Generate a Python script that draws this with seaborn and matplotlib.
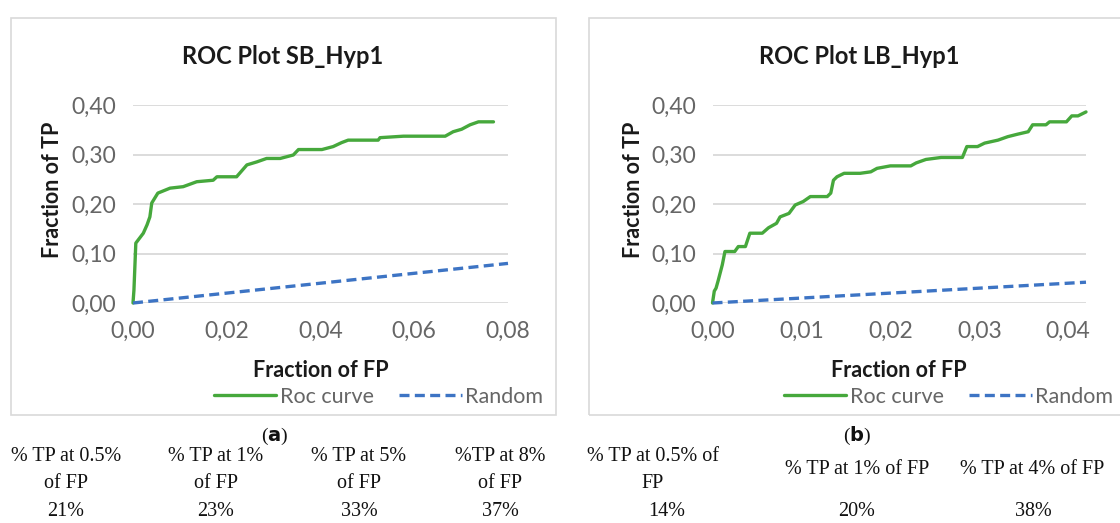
import matplotlib
matplotlib.use("Agg")
import matplotlib.pyplot as plt
import matplotlib.patches as mpatches
from matplotlib.lines import Line2D
from matplotlib.ticker import FuncFormatter, MultipleLocator
import seaborn as sns
import pandas as pd

# ---------------- data ----------------
sb_fp = [0.0, 0.0002, 0.0006, 0.0022, 0.0030, 0.0036, 0.0040, 0.0053, 0.0079, 0.0107,
         0.0136, 0.0171, 0.0179, 0.0221, 0.0243, 0.0264, 0.0285, 0.0314, 0.0342, 0.0353,
         0.0403, 0.0427, 0.0445, 0.0459, 0.0523, 0.0527, 0.0577, 0.0666, 0.0683, 0.0701,
         0.0719, 0.0737, 0.0769]
sb_tp = [0.0, 0.026, 0.121, 0.141, 0.158, 0.174, 0.202, 0.222, 0.232, 0.235,
         0.245, 0.248, 0.255, 0.255, 0.279, 0.285, 0.292, 0.292, 0.299, 0.310,
         0.310, 0.316, 0.324, 0.329, 0.329, 0.334, 0.337, 0.337, 0.346, 0.351,
         0.360, 0.366, 0.366]
sb_random_fp = [0.0, 0.08]
sb_random_tp = [0.0, 0.08]

lb_fp = [0.0, 0.0002, 0.0004, 0.00065, 0.0011, 0.0014, 0.0025, 0.0029, 0.0037, 0.0042,
         0.0056, 0.0063, 0.0072, 0.0076, 0.0086, 0.0093, 0.0102, 0.0110, 0.0129, 0.0133,
         0.0136, 0.0140, 0.0148, 0.0166, 0.0178, 0.0185, 0.0200, 0.0223, 0.0229, 0.0240,
         0.0257, 0.0281, 0.0286, 0.0298, 0.0306, 0.0321, 0.0332, 0.0343, 0.0355, 0.0360,
         0.0375, 0.0379, 0.0398, 0.0404, 0.0411, 0.0420]
lb_tp = [0.0, 0.024, 0.030, 0.046, 0.077, 0.104, 0.104, 0.114, 0.114, 0.141,
         0.141, 0.152, 0.161, 0.174, 0.181, 0.198, 0.205, 0.215, 0.215, 0.222,
         0.248, 0.255, 0.262, 0.262, 0.265, 0.272, 0.277, 0.277, 0.283, 0.290,
         0.294, 0.294, 0.316, 0.316, 0.323, 0.329, 0.336, 0.341, 0.346, 0.360,
         0.360, 0.366, 0.366, 0.378, 0.378, 0.386]
lb_random_fp = [0.0, 0.042]
lb_random_tp = [0.0, 0.042]

titles = ["ROC Plot SB_Hyp1", "ROC Plot LB_Hyp1"]
series_names = ["Roc curve", "Random"]
caption_letters = ["a", "b"]

table_a_headers = ["% TP at 0.5%\nof FP", "% TP at 1%\nof FP", "% TP at 5%\nof FP", "%TP at 8%\nof FP"]
table_a_values = ["21%", "23%", "33%", "37%"]
table_b_headers = ["% TP at 0.5% of\nFP", "% TP at 1% of FP", "% TP at 4% of FP"]
table_b_values = ["14%", "20%", "38%"]

# ---------------- style ----------------
sns.set_style("white")
plt.rcParams["font.family"] = ["Lato", "DejaVu Sans"]

GREEN = "#46a83c"
BLUE = "#3d74c4"
GRID = "#d9d9d9"
TICK = "#666666"

W, H = 1120, 523
fig = plt.figure(figsize=(W / 100, H / 100), dpi=100)


def fx(px):
    return px / W


def fy(py):
    return 1 - py / H


comma_fmt = FuncFormatter(lambda v, p: f"{v:.2f}".replace(".", ","))

panels = [
    dict(fp=sb_fp, tp=sb_tp, rfp=sb_random_fp, rtp=sb_random_tp, xmax=0.08, xstep=0.02,
         ax_px=(133, 508), box=(11, 556), title_x=283, legend_right=543, ylab_x=52),
    dict(fp=lb_fp, tp=lb_tp, rfp=lb_random_fp, rtp=lb_random_tp, xmax=0.042, xstep=0.01,
         ax_px=(712.5, 1086), box=(589, 1130), title_x=859, legend_right=1113, ylab_x=633),
]

serif = ["Liberation Serif", "DejaVu Serif"]

for i, p in enumerate(panels):
    # chart frame
    bx0, bx1 = p["box"]
    fig.patches.append(mpatches.Rectangle((fx(bx0), fy(415)), fx(bx1 - bx0), (415 - 18) / H,
                                          transform=fig.transFigure, fill=False,
                                          edgecolor=GRID, linewidth=1.2, zorder=0))
    x0, x1 = p["ax_px"]
    ax = fig.add_axes([fx(x0), fy(303), fx(x1 - x0), 198 / H])

    df = pd.DataFrame({"fp": list(p["fp"]) + list(p["rfp"]),
                       "tp": list(p["tp"]) + list(p["rtp"]),
                       "series": [series_names[0]] * len(p["fp"]) + [series_names[1]] * len(p["rfp"])})
    sns.lineplot(data=df[df.series == series_names[0]], x="fp", y="tp", ax=ax, color=GREEN,
                 linewidth=2.4, sort=False, estimator=None, legend=False, zorder=3)
    sns.lineplot(data=df[df.series == series_names[1]], x="fp", y="tp", ax=ax, color=BLUE,
                 linewidth=2.4, sort=False, estimator=None, legend=False, zorder=3,
                 linestyle=(0, (3, 1.6)))

    ax.set_xlim(0, p["xmax"])
    ax.set_ylim(0, 0.40)
    ax.xaxis.set_major_locator(MultipleLocator(p["xstep"]))
    ax.yaxis.set_major_locator(MultipleLocator(0.10))
    ax.xaxis.set_major_formatter(comma_fmt)
    ax.yaxis.set_major_formatter(comma_fmt)
    ax.grid(axis="y", color=GRID, linewidth=1.3)
    ax.grid(axis="x", visible=False)
    for s in ax.spines.values():
        s.set_visible(False)
    ax.tick_params(axis="both", length=0, labelsize=16.5, colors=TICK)
    ax.tick_params(axis="y", pad=12)
    ax.tick_params(axis="x", pad=13)
    for ln in ax.lines:
        ln.set_clip_on(False)

    ax.set_xlabel("Fraction of FP", fontsize=15.5, fontweight="bold", color="#1a1a1a", va="center")
    ax.xaxis.set_label_coords(0.5, -0.343)
    ax.set_ylabel("Fraction of TP", fontsize=15.5, fontweight="bold", color="#1a1a1a", va="center")
    ax.yaxis.set_label_coords((p["ylab_x"] - x0) / (x1 - x0), 0.571)

    fig.text(fx(p["title_x"]), fy(57), titles[i], ha="center", va="center",
             fontsize=17, fontweight="bold", color="#1a1a1a")

    handles = [Line2D([], [], color=GREEN, linewidth=2.4),
               Line2D([], [], color=BLUE, linewidth=2.4, linestyle=(0, (3, 1.6)))]
    fig.legend(handles, series_names, loc="center right",
               bbox_to_anchor=(fx(p["legend_right"]), fy(397)), ncol=2, frameon=False,
               fontsize=15.5, labelcolor=TICK, handlelength=2.9, handletextpad=0.15,
               columnspacing=1.2, borderaxespad=0, borderpad=0)

    cap_x = 275 if i == 0 else 857
    fig.text(fx(cap_x), fy(436), "(" + r"$\mathbf{" + caption_letters[i] + "}$" + ")",
             ha="center", va="center", fontsize=14, family=serif, color="#111111")

plt.rcParams["mathtext.fontset"] = "custom"
plt.rcParams["mathtext.bf"] = "Liberation Serif:bold"

# tables
TFS = 14.5
for cx, head, val in zip([66, 216, 359, 500], table_a_headers, table_a_values):
    fig.text(fx(cx), fy(470), head, ha="center", va="center", fontsize=TFS, family=serif,
             linespacing=1.55, color="#111111")
    fig.text(fx(cx), fy(511), val, ha="center", va="center", fontsize=TFS, family=serif,
             color="#111111")
for cx, head, val, vx in zip([653, 857, 1032], table_b_headers, table_b_values, [667, 857, 1033]):
    fig.text(fx(cx), fy(470), head, ha="center", va="center", fontsize=TFS, family=serif,
             linespacing=1.55, color="#111111")
    fig.text(fx(vx), fy(511), val, ha="center", va="center", fontsize=TFS, family=serif,
             color="#111111")

fig.savefig("out.png", dpi=100)
